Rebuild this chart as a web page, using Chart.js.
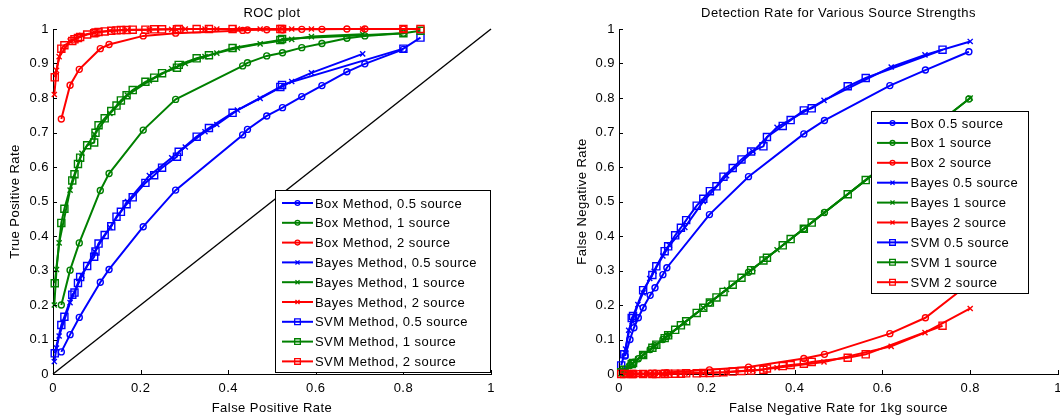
<!DOCTYPE html>
<html><head><meta charset="utf-8">
<script src="https://cdn.jsdelivr.net/npm/chart.js@4.4.1/dist/chart.umd.min.js"></script>
<style>
html,body{margin:0;padding:0;background:#fff;overflow:hidden;width:1060px;height:417px;position:relative;}
#c1{position:absolute;left:0;top:0;}
#c2{position:absolute;left:530px;top:0;}
</style></head><body>
<canvas id="c1" width="530" height="417"></canvas>
<canvas id="c2" width="560" height="417"></canvas>
<script>
// ---------- tick labels ----------
const xTickLabels = ['0', '0.2', '0.4', '0.6', '0.8', '1'];
const yTickLabels = ['0', '0.1', '0.2', '0.3', '0.4', '0.5', '0.6', '0.7', '0.8', '0.9', '1'];

// ---------- series names ----------
const rocLabels = ['Box Method, 0.5 source', 'Box Method, 1 source', 'Box Method, 2 source',
  'Bayes Method, 0.5 source', 'Bayes Method, 1 source', 'Bayes Method, 2 source',
  'SVM Method, 0.5 source', 'SVM Method, 1 source', 'SVM Method, 2 source'];
const detLabels = ['Box 0.5 source', 'Box 1 source', 'Box 2 source',
  'Bayes 0.5 source', 'Bayes 1 source', 'Bayes 2 source',
  'SVM 0.5 source', 'SVM 1 source', 'SVM 2 source'];

// ---------- ROC plot (left) ----------
const boxFpr   = [0.019, 0.039, 0.06, 0.108, 0.128, 0.206, 0.28, 0.433, 0.444, 0.488, 0.524, 0.568, 0.614, 0.671, 0.712, 0.8];
const boxTpr05 = [0.064, 0.114, 0.164, 0.266, 0.303, 0.427, 0.533, 0.693, 0.709, 0.748, 0.772, 0.804, 0.836, 0.876, 0.899, 0.941];
const boxTpr1  = [0.2, 0.301, 0.38, 0.532, 0.581, 0.707, 0.796, 0.893, 0.902, 0.922, 0.931, 0.946, 0.958, 0.973, 0.98, 0.988];
const boxTpr2  = [0.739, 0.837, 0.883, 0.943, 0.955, 0.98, 0.988, 0.996, 0.997, 0.998, 0.998, 0.999, 0.999, 1.0, 1.0, 1.0];

const bayesFpr   = [0.003, 0.008, 0.014, 0.039, 0.066, 0.095, 0.13, 0.17, 0.22, 0.271, 0.302, 0.347, 0.374, 0.421, 0.473, 0.545, 0.59, 0.707];
const bayesTpr05 = [0.036, 0.075, 0.11, 0.207, 0.285, 0.355, 0.425, 0.5, 0.575, 0.627, 0.658, 0.702, 0.723, 0.765, 0.799, 0.848, 0.873, 0.928];
const bayesTpr1  = [0.2, 0.303, 0.38, 0.533, 0.64, 0.695, 0.755, 0.808, 0.85, 0.885, 0.9, 0.92, 0.93, 0.945, 0.957, 0.97, 0.978, 0.985];
const bayesTpr2  = [0.81, 0.88, 0.92, 0.965, 0.982, 0.99, 0.995, 0.997, 0.998, 0.999, 1, 1, 1, 1, 1, 1, 1, 1];

const svmFpr   = [0.004, 0.019, 0.026, 0.044, 0.049, 0.057, 0.062, 0.078, 0.094, 0.097, 0.104, 0.118, 0.133, 0.145, 0.155, 0.168, 0.182, 0.211, 0.231, 0.249, 0.283, 0.287, 0.328, 0.356, 0.41, 0.519, 0.523, 0.8, 0.839];
const svmTpr05 = [0.06, 0.142, 0.166, 0.23, 0.236, 0.264, 0.281, 0.313, 0.34, 0.355, 0.378, 0.403, 0.428, 0.456, 0.47, 0.492, 0.512, 0.554, 0.576, 0.598, 0.63, 0.644, 0.688, 0.713, 0.757, 0.832, 0.838, 0.943, 0.975];
const svmTpr1  = [0.263, 0.438, 0.479, 0.561, 0.579, 0.609, 0.627, 0.663, 0.671, 0.699, 0.721, 0.741, 0.762, 0.778, 0.793, 0.808, 0.823, 0.847, 0.859, 0.872, 0.888, 0.896, 0.915, 0.924, 0.945, 0.968, 0.971, 0.988, 0.995];
const svmTpr2  = [0.86, 0.943, 0.953, 0.965, 0.97, 0.974, 0.977, 0.984, 0.988, 0.99, 0.991, 0.993, 0.995, 0.996, 0.997, 0.997, 0.998, 0.998, 0.999, 0.999, 0.999, 1, 1, 1, 1, 1, 1, 1, 1];

const chanceX = [0, 1];
const chanceY = [0, 1];

// ---------- Detection rate plot (right) ----------
const boxFnr1kg = [0.797, 0.698, 0.617, 0.468, 0.421, 0.295, 0.206, 0.109, 0.1, 0.082, 0.071, 0.055, 0.044, 0.034, 0.025, 0.014];
const boxFnr05  = [0.934, 0.881, 0.836, 0.735, 0.696, 0.572, 0.462, 0.308, 0.288, 0.25, 0.228, 0.192, 0.163, 0.134, 0.1, 0.052];
const boxFnr1   = [0.797, 0.698, 0.617, 0.468, 0.421, 0.295, 0.206, 0.109, 0.1, 0.082, 0.071, 0.055, 0.044, 0.034, 0.025, 0.014];
const boxFnr2   = [0.261, 0.163, 0.117, 0.057, 0.045, 0.02, 0.012, 0.004, 0.003, 0.002, 0.002, 0.001, 0.001, 0, 0, 0];

const bayesFnr1kg = [0.8, 0.697, 0.62, 0.467, 0.36, 0.305, 0.245, 0.192, 0.15, 0.115, 0.1, 0.08, 0.07, 0.055, 0.043, 0.03, 0.022, 0.015];
const bayesFnr05  = [0.964, 0.925, 0.89, 0.793, 0.715, 0.645, 0.575, 0.5, 0.425, 0.373, 0.342, 0.298, 0.277, 0.235, 0.201, 0.152, 0.127, 0.072];
const bayesFnr1   = [0.8, 0.697, 0.62, 0.467, 0.36, 0.305, 0.245, 0.192, 0.15, 0.115, 0.1, 0.08, 0.07, 0.055, 0.043, 0.03, 0.022, 0.015];
const bayesFnr2   = [0.19, 0.12, 0.08, 0.035, 0.018, 0.01, 0.005, 0.003, 0.002, 0.001, 0, 0, 0, 0, 0, 0, 0, 0];

const svmFnr1kg = [0.737, 0.562, 0.521, 0.439, 0.421, 0.391, 0.373, 0.337, 0.329, 0.301, 0.279, 0.259, 0.238, 0.222, 0.207, 0.192, 0.177, 0.153, 0.141, 0.128, 0.112, 0.104, 0.085, 0.076, 0.055, 0.032, 0.029, 0.012, 0.005];
const svmFnr05  = [0.94, 0.858, 0.834, 0.77, 0.764, 0.736, 0.719, 0.687, 0.66, 0.645, 0.622, 0.597, 0.572, 0.544, 0.53, 0.508, 0.488, 0.446, 0.424, 0.402, 0.37, 0.356, 0.312, 0.287, 0.243, 0.168, 0.162, 0.057, 0.025];
const svmFnr1   = [0.737, 0.562, 0.521, 0.439, 0.421, 0.391, 0.373, 0.337, 0.329, 0.301, 0.279, 0.259, 0.238, 0.222, 0.207, 0.192, 0.177, 0.153, 0.141, 0.128, 0.112, 0.104, 0.085, 0.076, 0.055, 0.032, 0.029, 0.012, 0.005];
const svmFnr2   = [0.14, 0.057, 0.047, 0.035, 0.03, 0.026, 0.023, 0.016, 0.012, 0.01, 0.009, 0.007, 0.005, 0.004, 0.003, 0.003, 0.002, 0.002, 0.001, 0.001, 0.001, 0, 0, 0, 0, 0, 0, 0, 0];

// ---------- styling ----------
const FONT = "'Liberation Sans', Arial, Helvetica, sans-serif";
const LETTER_SPACING = '0.45px';
const sourceColors = ['#0000ff', '#008000', '#ff0000'];
const methodStyles = ['circle', 'crossRot', 'rect'];
const markerRadius = { circle: 3, crossRot: 3.6, rect: 5 };

Chart.defaults.font.family = FONT;
Chart.defaults.font.size = 13;
Chart.defaults.color = '#000';

function series(label, xs, ys, mi, si) {
  const style = methodStyles[mi];
  return {
    label,
    data: xs.map((x, i) => ({ x, y: ys[i] })),
    showLine: true,
    borderColor: sourceColors[si],
    backgroundColor: 'rgba(0,0,0,0)',
    borderWidth: 2,
    pointStyle: style,
    pointRadius: markerRadius[style],
    pointHoverRadius: markerRadius[style],
    pointBorderColor: sourceColors[si],
    pointBackgroundColor: 'rgba(0,0,0,0)',
    pointBorderWidth: 1.4,
    tension: 0,
    clip: false,
    order: 20 - (mi * 3 + si)
  };
}

const spacingPlugin = {
  id: 'spacing',
  beforeUpdate(c) { c.ctx.letterSpacing = LETTER_SPACING; },
  beforeDraw(c) { c.ctx.letterSpacing = LETTER_SPACING; }
};

function drawMarker(ctx, style, r, x, y) {
  ctx.beginPath();
  if (style === 'circle') {
    ctx.arc(x, y, r, 0, Math.PI * 2);
  } else if (style === 'rect') {
    const s = r * Math.SQRT1_2;
    ctx.rect(x - s, y - s, 2 * s, 2 * s);
  } else {
    const o = r * Math.SQRT1_2;
    ctx.moveTo(x - o, y - o); ctx.lineTo(x + o, y + o);
    ctx.moveTo(x - o, y + o); ctx.lineTo(x + o, y - o);
  }
  ctx.stroke();
}

const matlabPlugin = {
  id: 'matlab',
  afterDatasetsDraw(chart, args, opts) {
    const ctx = chart.ctx;
    const xs = chart.scales.x, ys = chart.scales.y;
    ctx.save();
    // inward tick marks
    ctx.strokeStyle = '#000';
    ctx.lineWidth = 1;
    ctx.beginPath();
    xs.ticks.forEach(t => {
      const px = Math.round(xs.getPixelForValue(t.value)) + 0.5;
      ctx.moveTo(px, ys.bottom); ctx.lineTo(px, ys.bottom - 4);
    });
    ys.ticks.forEach(t => {
      const py = Math.round(ys.getPixelForValue(t.value)) + 0.5;
      ctx.moveTo(xs.left, py); ctx.lineTo(xs.left + 4, py);
    });
    ctx.stroke();

    // legend box
    const L = opts;
    ctx.fillStyle = '#fff';
    ctx.fillRect(L.left, L.top, L.width, L.height);
    ctx.strokeStyle = '#000';
    ctx.lineWidth = 1;
    ctx.strokeRect(L.left, L.top, L.width, L.height);
    ctx.letterSpacing = LETTER_SPACING;
    ctx.font = '13px ' + FONT;
    ctx.textBaseline = 'middle';
    ctx.textAlign = 'left';
    let row = 0;
    chart.data.datasets.forEach(ds => {
      if (!ds.label) return;
      const y = L.rowStart + row * L.rowStep;
      ctx.strokeStyle = ds.borderColor;
      ctx.lineWidth = 2;
      ctx.beginPath();
      ctx.moveTo(L.lineStart, y); ctx.lineTo(L.lineEnd, y);
      ctx.stroke();
      ctx.lineWidth = 1.3;
      drawMarker(ctx, ds.pointStyle, ds.pointRadius * 0.8, (L.lineStart + L.lineEnd) / 2, y);
      ctx.fillStyle = '#000';
      ctx.fillText(ds.label, L.textStart, y + 1);
      row++;
    });
    ctx.restore();
  }
};

function axes(xTitle, yTitle, yWidth, yTitlePad) {
  return {
    x: {
      type: 'linear', min: 0, max: 1,
      ticks: { stepSize: 0.2, padding: 7, color: '#000', maxRotation: 0, autoSkip: false,
               callback: (v, i) => xTickLabels[i] },
      grid: { display: false, drawTicks: false },
      border: { display: true, color: '#000', width: 1 },
      title: { display: true, text: xTitle, color: '#000', padding: { top: 0, bottom: 1 } },
      afterFit: s => { s.height = 43; }
    },
    y: {
      type: 'linear', min: 0, max: 1,
      ticks: { stepSize: 0.1, padding: 4, color: '#000', autoSkip: false,
               callback: (v, i) => yTickLabels[i] },
      grid: { display: false, drawTicks: false },
      border: { display: true, color: '#000', width: 1 },
      title: { display: true, text: yTitle, color: '#000', padding: { top: yTitlePad, bottom: 0 } },
      afterFit: s => { s.width = yWidth; }
    }
  };
}

function baseOptions(title, padRight, scales, legendBox) {
  return {
    responsive: false,
    animation: false,
    devicePixelRatio: 1,
    layout: { padding: { left: 0, right: padRight, top: 0, bottom: 0 } },
    events: [],
    plugins: {
      legend: { display: false },
      tooltip: { enabled: false },
      title: { display: true, text: title, fullSize: false, color: '#000',
               font: { size: 13, weight: 'normal' }, padding: { top: 5.4, bottom: 8 } },
      matlab: legendBox
    },
    scales
  };
}

// ---------- left chart ----------
const rocX = [boxFpr, bayesFpr, svmFpr];
const rocY = [[boxTpr05, boxTpr1, boxTpr2], [bayesTpr05, bayesTpr1, bayesTpr2], [svmTpr05, svmTpr1, svmTpr2]];
const rocSets = [];
for (let m = 0; m < 3; m++) for (let s = 0; s < 3; s++)
  rocSets.push(series(rocLabels[m * 3 + s], rocX[m], rocY[m][s], m, s));
rocSets.push({
  data: chanceX.map((x, i) => ({ x, y: chanceY[i] })), showLine: true,
  borderColor: '#000', borderWidth: 1.4, pointRadius: 0, tension: 0, clip: false, order: 50
});

new Chart(document.getElementById('c1'), {
  type: 'scatter',
  data: { datasets: rocSets },
  options: baseOptions('ROC plot', 39,
    axes('False Positive Rate', 'True Positive Rate', 53, 7.2),
    { left: 275.5, top: 190.5, width: 215, height: 182, rowStart: 203, rowStep: 19.8,
      lineStart: 282, lineEnd: 313, textStart: 315 }),
  plugins: [spacingPlugin, matlabPlugin]
});

// ---------- right chart ----------
const detX = [boxFnr1kg, bayesFnr1kg, svmFnr1kg];
const detY = [[boxFnr05, boxFnr1, boxFnr2], [bayesFnr05, bayesFnr1, bayesFnr2], [svmFnr05, svmFnr1, svmFnr2]];
const detSets = [];
for (let m = 0; m < 3; m++) for (let s = 0; s < 3; s++)
  detSets.push(series(detLabels[m * 3 + s], detX[m], detY[m][s], m, s));

new Chart(document.getElementById('c2'), {
  type: 'scatter',
  data: { datasets: detSets },
  options: baseOptions('Detection Rate for Various Source Strengths', 32,
    axes('False Negative Rate for 1kg source', 'False Negative Rate', 89, 44.5),
    { left: 341.5, top: 111.5, width: 157, height: 182, rowStart: 123, rowStep: 19.9,
      lineStart: 347, lineEnd: 378, textStart: 380.5 }),
  plugins: [spacingPlugin, matlabPlugin]
});
</script>
</body></html>
